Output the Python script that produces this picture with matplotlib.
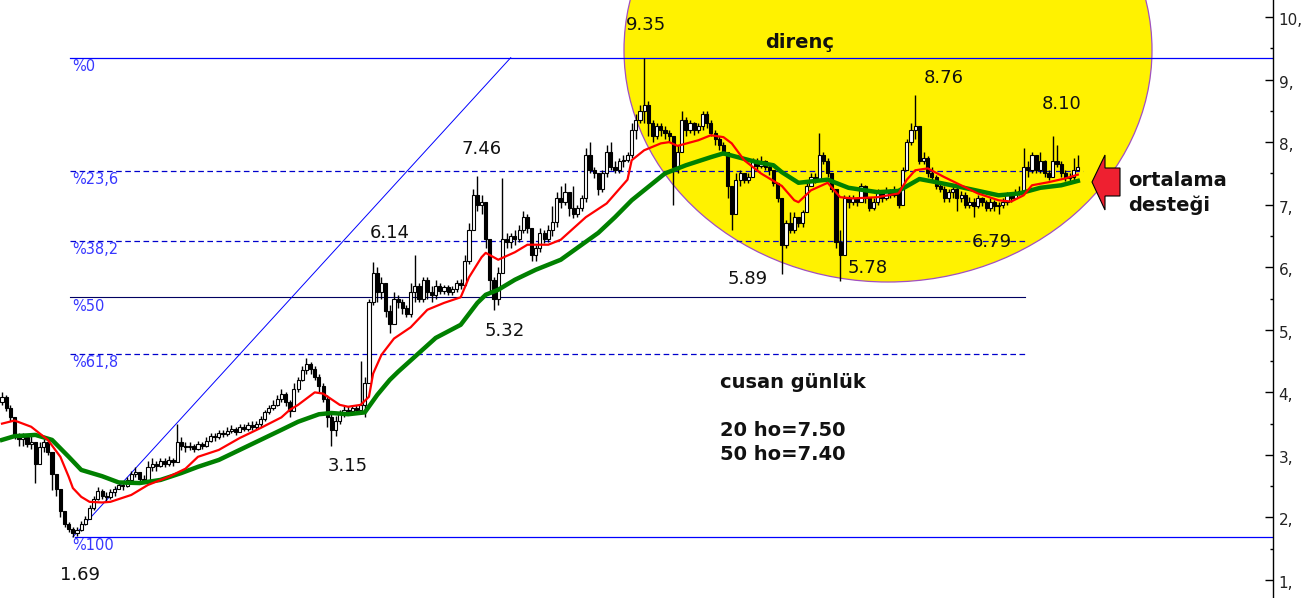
import numpy as np
import matplotlib
matplotlib.use("Agg")
import matplotlib.pyplot as plt
import matplotlib.transforms as mtransforms
from matplotlib.patches import Ellipse, Polygon

# ---------------- data ----------------
first_open = 3.85
closes = [
3.92,3.75,3.6,3.3,3.25,3.28,3.18,3.2,2.85,3.12,
3.2,3.05,2.7,2.45,2.1,1.9,1.82,1.75,1.8,1.9,
1.98,2.15,2.3,2.42,2.35,2.32,2.4,2.45,2.52,2.5,
2.6,2.7,2.72,2.62,2.6,2.8,2.85,2.82,2.9,2.85,
2.92,2.88,3.2,3.15,3.12,3.15,3.1,3.18,3.15,3.22,
3.3,3.28,3.35,3.33,3.38,3.42,3.37,3.45,3.42,3.48,
3.45,3.5,3.58,3.68,3.75,3.8,3.9,3.98,3.85,3.7,
4.05,4.2,4.35,4.45,4.38,4.25,4.1,3.9,3.6,3.4,
3.55,3.68,3.72,3.7,3.75,3.72,3.8,4.15,5.45,5.9,
5.6,5.75,5.3,5.1,5.5,5.45,5.35,5.25,5.6,5.7,
5.5,5.8,5.6,5.55,5.7,5.62,5.68,5.6,5.65,5.75,
5.72,6.1,6.6,7.15,7.0,7.05,6.45,5.8,5.5,5.9,
6.45,6.4,6.5,6.45,6.6,6.8,6.62,6.2,6.3,6.55,
6.45,6.6,6.72,7.1,7.05,7.2,6.95,6.85,6.95,7.1,
7.8,7.55,7.5,7.25,7.5,7.85,7.6,7.55,7.7,7.72,
7.8,8.2,8.35,8.5,8.6,8.3,8.1,8.25,8.2,8.15,
8.1,7.6,7.85,8.35,8.2,8.3,8.2,8.25,8.45,8.3,
8.15,8.05,7.95,7.85,7.3,6.85,7.4,7.5,7.4,7.45,
7.7,7.62,7.7,7.6,7.55,7.35,7.1,6.35,6.7,6.6,
6.8,6.7,6.88,7.3,7.45,7.4,7.8,7.7,7.5,7.25,
6.4,6.2,7.1,7.05,7.1,7.05,7.3,7.1,6.95,7.05,
7.2,7.1,7.22,7.15,7.2,7.0,7.55,8.0,8.2,8.25,
7.7,7.75,7.5,7.45,7.3,7.25,7.1,7.2,7.25,7.1,
7.15,7.0,7.05,6.98,7.1,7.05,6.95,7.05,6.98,7.0,
7.05,7.15,7.1,7.2,7.22,7.6,7.55,7.8,7.55,7.7,
7.5,7.45,7.7,7.65,7.5,7.42,7.45,7.55,7.6]
highs = [
4.0,3.95,3.8,3.6,3.35,3.35,3.32,3.3,3.0,3.2,
3.25,3.22,3.0,2.7,2.45,2.1,1.92,1.85,1.85,1.95,
2.02,2.2,2.35,2.48,2.45,2.4,2.45,2.5,2.58,2.56,
2.65,2.75,2.8,2.72,2.68,2.9,2.95,2.9,2.95,2.95,
2.98,2.95,3.5,3.28,3.2,3.2,3.18,3.22,3.2,3.28,
3.35,3.35,3.4,3.4,3.45,3.48,3.45,3.5,3.5,3.52,
3.55,3.55,3.62,3.72,3.8,3.88,3.95,4.05,4.0,3.88,
4.15,4.25,4.42,4.55,4.48,4.42,4.3,4.15,3.95,3.65,
3.62,3.72,3.78,3.78,3.8,3.8,4.5,4.25,5.5,6.08,
6.0,5.85,5.7,5.4,5.6,5.55,5.5,5.4,5.75,6.2,
5.75,5.85,5.85,5.7,5.8,5.75,5.72,5.72,5.7,5.8,
5.82,6.2,6.7,7.25,7.46,7.15,7.05,6.45,5.85,6.0,
7.43,6.55,6.55,6.6,6.68,6.9,6.85,6.6,6.35,6.62,
6.6,6.68,6.98,7.2,7.3,7.35,7.2,7.3,7.0,7.15,
7.9,8.0,7.6,7.5,7.55,7.95,8.0,7.7,7.75,7.8,
7.85,8.3,8.45,8.6,9.35,8.65,8.35,8.3,8.3,8.25,
8.2,8.1,7.95,8.5,8.4,8.35,8.32,8.3,8.5,8.5,
8.35,8.2,8.1,8.0,7.85,7.3,7.5,7.55,7.5,7.5,
7.75,7.75,7.78,7.72,7.65,7.55,7.35,7.1,6.75,6.88,
6.88,6.8,6.92,7.35,7.5,7.5,8.15,7.85,7.75,7.5,
7.25,6.6,7.15,7.15,7.15,7.12,7.35,7.32,7.12,7.1,
7.25,7.22,7.28,7.25,7.3,7.2,7.6,8.05,8.3,8.76,
8.25,7.85,7.78,7.6,7.48,7.35,7.3,7.25,7.3,7.3,
7.22,7.2,7.12,7.1,7.15,7.12,7.08,7.1,7.08,7.05,
7.1,7.2,7.2,7.25,7.3,7.9,7.7,7.85,7.8,7.85,
7.72,7.55,8.1,7.95,7.7,7.55,7.5,7.75,7.8]
lows = [
3.8,3.7,3.55,3.25,3.15,3.15,3.12,3.1,2.55,2.85,
3.05,3.0,2.44,2.35,2.0,1.85,1.76,1.69,1.7,1.78,
1.88,1.98,2.12,2.28,2.3,2.25,2.3,2.35,2.45,2.44,
2.48,2.58,2.65,2.58,2.55,2.6,2.75,2.75,2.8,2.8,
2.82,2.83,2.9,3.08,3.05,3.08,3.05,3.08,3.1,3.12,
3.2,3.22,3.25,3.28,3.3,3.35,3.32,3.36,3.38,3.38,
3.4,3.42,3.45,3.55,3.65,3.72,3.78,3.85,3.78,3.6,
3.7,4.0,4.18,4.3,4.3,4.2,4.0,3.85,3.45,3.15,
3.3,3.5,3.6,3.65,3.66,3.65,3.65,3.6,4.2,5.4,
5.45,5.5,5.2,4.95,5.1,5.35,5.25,5.2,5.2,5.45,
5.45,5.45,5.5,5.45,5.5,5.58,5.58,5.55,5.55,5.6,
5.65,5.7,6.05,6.6,6.9,6.85,6.3,5.6,5.32,5.4,
6.3,6.3,6.3,6.35,6.4,6.55,6.55,6.1,6.1,6.25,
6.38,6.4,6.5,6.65,6.95,7.0,6.82,6.78,6.8,6.9,
7.05,7.5,7.42,7.15,7.2,7.45,7.55,7.5,7.5,7.6,
7.68,7.75,8.05,8.3,8.3,8.1,8.0,8.05,8.1,8.05,
8.0,7.0,7.5,7.85,8.1,8.15,8.12,8.15,8.2,8.22,
8.1,7.95,7.88,7.8,7.1,6.6,6.85,7.3,7.35,7.35,
7.45,7.55,7.58,7.55,7.48,7.3,7.05,5.89,6.3,6.55,
6.55,6.65,6.65,6.9,7.3,7.35,7.4,7.65,7.45,7.2,
6.3,5.78,6.2,6.95,7.0,6.98,7.05,7.02,6.9,6.92,
7.0,7.05,7.08,7.1,7.12,6.95,7.0,7.55,7.95,8.05,
7.65,7.65,7.45,7.4,7.25,7.2,7.05,7.05,7.1,6.9,
7.05,6.95,6.95,6.8,6.95,6.98,6.9,6.9,6.9,6.85,
6.95,7.0,7.05,7.1,7.15,7.2,7.45,7.5,7.5,7.5,
7.45,7.4,7.45,7.6,7.45,7.38,7.38,7.4,7.55]

ma20_bars = [0,3,7,11,14,16,17,19,21,24,26,31,35,40,44,47,52,57,62,67,
             69,71,75,77,81,83,86,88,89,91,94,98,102,106,110,112,115,116,119,123,
             126,131,134,140,145,150,151,154,158,160,162,167,170,173,175,178,182,187,190,191,
             194,198,201,204,210,215,217,219,222,226,230,234,239,242,245,247,251,255,258]
ma20_vals = [3.5,3.55,3.45,3.24,2.97,2.65,2.47,2.33,2.25,2.24,2.25,2.36,2.52,2.65,2.78,2.97,3.08,3.27,3.43,3.6,
             3.72,3.8,4.0,3.98,3.8,3.77,3.8,3.93,4.3,4.6,4.86,5.04,5.32,5.43,5.52,5.84,6.16,6.23,6.12,6.24,
             6.36,6.36,6.44,6.8,7.02,7.4,7.71,7.87,7.98,8.0,7.94,8.03,8.11,8.08,7.98,7.71,7.5,7.3,7.07,7.04,
             7.23,7.35,7.12,7.1,7.12,7.18,7.4,7.55,7.58,7.44,7.31,7.18,7.07,7.05,7.15,7.31,7.36,7.42,7.48]
ma50_bars = [0,3,8,12,16,19,24,28,33,38,43,47,52,57,62,67,71,76,79,83,
             87,90,93,95,104,110,114,116,119,123,128,134,143,147,151,159,164,170,173,177,
             181,185,187,191,198,203,210,215,220,224,230,239,244,249,254,258]
ma50_vals = [3.24,3.3,3.32,3.24,2.97,2.76,2.66,2.56,2.55,2.6,2.71,2.81,2.92,3.08,3.24,3.4,3.53,3.65,3.67,3.65,
             3.68,3.96,4.2,4.33,4.87,5.08,5.43,5.56,5.64,5.8,5.96,6.12,6.55,6.8,7.07,7.5,7.63,7.76,7.82,7.75,
             7.68,7.63,7.52,7.35,7.4,7.27,7.2,7.22,7.41,7.36,7.28,7.15,7.18,7.27,7.31,7.38]

swing_high = 9.35
swing_low = 1.69
swing_low_bar = 17
swing_high_bar = 122
fib_ratios = [0.0, 0.236, 0.382, 0.5, 0.618, 1.0]
fib_labels = ["%0", "%23,6", "%38,2", "%50", "%61,8", "%100"]

tick_values = [1, 2, 3, 4, 5, 6, 7, 8, 9, 10]
tick_labels = ["1,", "2,", "3,", "4,", "5,", "6,", "7,", "8,", "9,", "10,"]

price_labels = ["9.35", "8.76", "8.10", "7.46", "6.14", "5.32", "5.89", "5.78", "6.79", "3.15", "1.69"]

# ---------------- layout helpers ----------------
W, H = 1314, 598
PX_PER_BAR = 4.17
PX_PER_UNIT = 62.56
def bx(px):   # pixel x -> bar coordinate
    return (px - 2) / PX_PER_BAR
def vy(py):   # pixel y -> price coordinate
    return 10 - (py - 17) / PX_PER_UNIT

plt.rcParams['font.family'] = ['DejaVu Sans']
fig = plt.figure(figsize=(W / 100, H / 100), dpi=100)
fig.patch.set_facecolor('white')
ax = fig.add_axes([0, 0, 1273 / W, 1])
ax.set_xlim(bx(0), bx(1273))
ax.set_ylim(vy(H), vy(0))

# yellow "resistance" ellipse
ell = Ellipse((bx(888), vy(50)), 528 / PX_PER_BAR, 464 / PX_PER_UNIT,
              facecolor='#fff200', edgecolor='#a050c0', lw=0.9, zorder=1)
ax.add_patch(ell)

# Fibonacci levels
rng = swing_high - swing_low
fib_vals = [swing_high - r * rng for r in fib_ratios]
fib_start = [bx(70), bx(70), bx(70), bx(70), bx(70), bx(75)]
fib_end = [bx(1273), bx(1083), bx(1025), bx(1025), bx(1025), bx(1273)]
fib_style = [dict(color='#0000ff', lw=0.9, ls='-'),
             dict(color='#0000cc', lw=0.9, ls=(0, (4.5, 2.8))),
             dict(color='#0000cc', lw=0.9, ls=(0, (4.5, 2.8))),
             dict(color='#000060', lw=0.8, ls='-'),
             dict(color='#0000cc', lw=0.9, ls=(0, (4.5, 2.8))),
             dict(color='#0000ff', lw=0.9, ls='-')]
for v, s, e, st, lab in zip(fib_vals, fib_start, fib_end, fib_style, fib_labels):
    ax.plot([s, e], [v, v], zorder=2, **st)
    ax.text(bx(72), v - 9 / PX_PER_UNIT, lab, color='#3838ff', fontsize=10.5,
            ha='left', va='center', zorder=7)

# trend line
ax.plot([swing_low_bar, swing_high_bar], [swing_low, swing_high], color='#0000ff', lw=0.7, zorder=2)

# candles
n = min(len(closes), len(highs), len(lows))
c = np.array(closes[:n])
o = np.r_[first_open, c[:-1]]
hi = np.maximum(np.array(highs[:n]), np.maximum(o, c))
lo = np.minimum(np.array(lows[:n]), np.minimum(o, c))
xb = np.arange(n)
ax.vlines(xb, lo, hi, color='black', lw=1.0, zorder=3)
up = c >= o
bot = np.minimum(o, c)
hgt = np.maximum(np.abs(c - o), 0.012)
ax.bar(xb[up], hgt[up], bottom=bot[up], width=0.75, facecolor='white',
       edgecolor='black', lw=0.8, zorder=3.5)
ax.bar(xb[~up], hgt[~up], bottom=bot[~up], width=0.75, facecolor='black',
       edgecolor='black', lw=0.8, zorder=3.5)

# moving averages
ax.plot(ma50_bars, ma50_vals, color='#008000', lw=3.2, zorder=5, solid_joinstyle='round')
ax.plot(ma20_bars, ma20_vals, color='#ff0000', lw=1.6, zorder=6, solid_joinstyle='round')

# axes styling
for side in ['left', 'top', 'bottom']:
    ax.spines[side].set_visible(False)
ax.spines['right'].set_color('black')
ax.spines['right'].set_linewidth(1.0)
ax.set_xticks([])
ax.yaxis.tick_right()
ax.set_yticks(tick_values)
ax.set_yticklabels(tick_labels)
ax.set_yticks(np.arange(1.5, 10.5, 1.0), minor=True)
ax.tick_params(axis='y', which='major', direction='in', length=6, width=1, pad=4,
               labelsize=11, labelcolor='#222222')
ax.tick_params(axis='y', which='minor', direction='in', length=2.5, width=1)
off = mtransforms.ScaledTranslation(0, 4 / 100, fig.dpi_scale_trans)
for lbl in ax.get_yticklabels():
    lbl.set_verticalalignment('top')
    lbl.set_transform(lbl.get_transform() + off)

# text annotations (pixel positions)
def ftxt(px, py, s, **kw):
    fig.text(px / W, 1 - py / H, s, **kw)

label_pos = [(646, 25), (944, 78), (1062, 104), (482, 149), (390, 233), (505, 331),
             (748, 279), (868, 268), (992, 242), (348, 466), (80, 575)]
for (px, py), s in zip(label_pos, price_labels):
    ftxt(px, py, s, fontsize=13, ha='center', va='center', color='#111111', zorder=8)

bold = dict(fontsize=14, fontweight='bold', color='#111111', va='center')
ftxt(800, 42, "direnç", ha='center', **bold)
ftxt(720, 382, "cusan günlük", ha='left', **bold)
ftxt(720, 430, "20 ho=7.50", ha='left', **bold)
ftxt(720, 454, "50 ho=7.40", ha='left', **bold)
ftxt(1128, 181, "ortalama", ha='left', **bold)
ftxt(1128, 205, "desteği", ha='left', **bold)

# red arrow
arrow_px = [(1092, 182), (1105, 155), (1105, 168), (1120, 168), (1120, 196), (1105, 196), (1105, 210)]
arrow = Polygon([(x / W, 1 - y / H) for x, y in arrow_px], closed=True,
                transform=fig.transFigure, facecolor='#ee2030', edgecolor='black', lw=0.8)
fig.add_artist(arrow)

fig.savefig("out.png", dpi=100, facecolor='white')
